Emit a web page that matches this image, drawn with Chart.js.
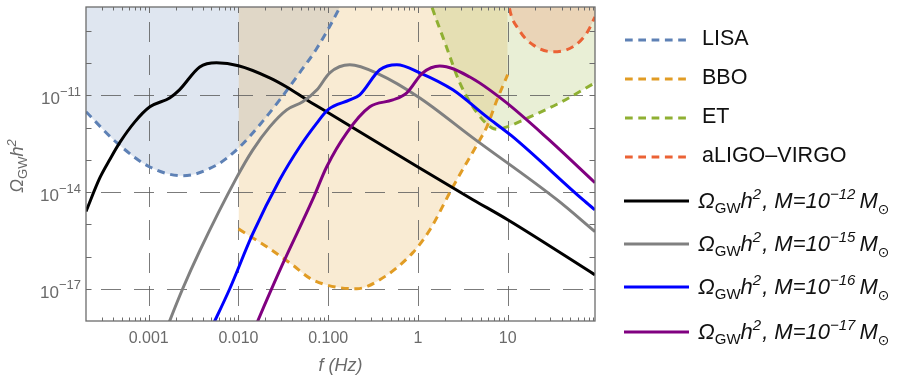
<!DOCTYPE html>
<html>
<head>
<meta charset="utf-8">
<script src="https://cdn.jsdelivr.net/npm/chart.js@4.4.1/dist/chart.umd.min.js"></script>
<style>
  html, body { margin: 0; padding: 0; background: #fff; }
  #wrap { width: 912px; height: 375px; }
</style>
</head>
<body>
<div id="wrap"><canvas id="chart" width="912" height="375"></canvas></div>
<script>
// axis ranges
const fMin = 2e-4, fMax = 94;
const omegaMin = 1e-18, omegaMax = 5.5e-9;

const xTickValues = [0.001, 0.01, 0.1, 1, 10];
const xTickLabels = ['0.001', '0.010', '0.100', '1', '10'];
const yTickExponents = [-11, -14, -17];

// detector sensitivity curves (f in Hz, Omega h^2)
const lisaF = [2.0e-4, 4.4e-4, 1.03e-3, 2.39e-3, 5.7e-3, 1.03e-2, 1.73e-2, 2.88e-2, 4.8e-2, 7.3e-2, 0.135, 0.155];
const lisaOmega = [3.1e-12, 3.4e-13, 6.0e-14, 3.2e-14, 6.9e-14, 2.5e-13, 1.23e-12, 7.2e-12, 5.0e-11, 2.6e-10, 5.5e-9, 1.3e-8];

const bboF = [0.01, 2.07e-2, 4.0e-2, 6.7e-2, 0.208, 0.376, 0.877, 1.36, 2.45, 4.9, 5.86, 7.6, 10];
const bboOmega = [7.2e-16, 2.0e-16, 5.5e-17, 1.9e-17, 1.0e-17, 1.9e-17, 1.32e-16, 6.8e-16, 1.45e-14, 4.2e-13, 1.05e-12, 7.2e-12, 4.4e-11];

const etF = [1.29, 1.43, 2.0, 2.93, 4.54, 6.67, 7.8, 9.8, 17.7, 38.2, 94];
const etOmega = [1.3e-8, 5.5e-9, 4.3e-10, 2.45e-11, 2.9e-12, 9.8e-13, 8.9e-13, 1.05e-12, 2.14e-12, 5.9e-12, 2.45e-11];

const ligoF = [10, 10.4, 13.4, 19.1, 31.9, 53.3, 76.4, 94];
const ligoOmega = [1.3e-8, 5.5e-9, 1.07e-9, 3.7e-10, 2.24e-10, 3.2e-10, 8.7e-10, 2.7e-9];

// GW spectra for the four masses
const m12F = [2.0e-4, 2.85e-4, 3.67e-4, 4.75e-4, 7.0e-4, 1.03e-3, 1.71e-3, 2.2e-3, 3.7e-3, 5.7e-3, 1.0e-2, 2.23e-2, 3.45e-2, 5.8e-2, 9.6e-2, 1, 4.1, 10, 94];
const m12Omega = [2.5e-15, 2.75e-14, 1.0e-13, 3.4e-13, 1.5e-12, 4.4e-12, 8.3e-12, 1.48e-11, 7.6e-11, 1.02e-10, 8.3e-11, 3.5e-11, 1.82e-11, 7.2e-12, 3.1e-12, 6.0e-14, 5.8e-15, 1.38e-15, 2.7e-17];

const m15F = [1.37e-3, 1.71e-3, 2.39e-3, 3.7e-3, 9.6e-3, 1.44e-2, 2.23e-2, 3.45e-2, 5.2e-2, 7.5e-2, 0.104, 0.174, 0.376, 1.05, 4.1, 35.4, 94];
const m15Omega = [2e-19, 1e-18, 1e-17, 1.5e-16, 2.9e-14, 2.0e-13, 1.05e-12, 3.55e-12, 6.3e-12, 1.48e-11, 5.0e-11, 8.9e-11, 4.4e-11, 8.3e-12, 4.8e-13, 5.8e-15, 5.9e-16];

const m16F = [4.3e-3, 5.44e-3, 8.0e-3, 1.44e-2, 2.88e-2, 4.8e-2, 7.5e-2, 9.9e-2, 0.174, 0.225, 0.376, 0.582, 1.05, 2.45, 5.86, 11.1, 68.9, 94];
const m16Omega = [2.6e-19, 1e-18, 1e-17, 5e-16, 2.4e-14, 2.5e-13, 1.4e-12, 3.55e-12, 7.2e-12, 1.04e-11, 6.2e-11, 8.9e-11, 5.0e-11, 1.48e-11, 2.14e-12, 5.5e-13, 5.8e-15, 2.8e-15];

const m17F = [1.3e-2, 1.64e-2, 3.12e-2, 6.7e-2, 9.6e-2, 0.161, 0.291, 0.525, 0.752, 1.13, 1.75, 3.79, 8.85, 27.4, 94];
const m17Omega = [2.1e-19, 1e-18, 6e-17, 5.8e-15, 6.0e-14, 6.9e-13, 4.4e-12, 7.2e-12, 1.2e-11, 5.0e-11, 8.2e-11, 3.7e-11, 7.2e-12, 4.8e-13, 1.95e-14];

const detectorNames = ['LISA', 'BBO', 'ET', 'aLIGO\u2013VIRGO'];
const detectorColors = ['#5e81b5', '#e19c24', '#8fb032', '#eb6235'];
const detectorFills = ['rgba(94,129,181,0.2)', 'rgba(225,156,36,0.2)', 'rgba(143,176,50,0.2)', 'rgba(235,98,53,0.2)'];
const massExponents = [-12, -15, -16, -17];
const massColors = ['#000000', '#808080', '#0000ff', '#800080'];

const dashPattern = [7.7, 5.6];
const frameColor = '#6c6c6c';
const labelColor = '#6a6a6a';
const fontFamily = '"Liberation Sans", Arial, sans-serif';

function pts(f, o) {
    return f.map((v, i) => ({x: v, y: o[i]}));
}

const detectorData = [[lisaF, lisaOmega], [bboF, bboOmega], [etF, etOmega], [ligoF, ligoOmega]];
const massData = [[m12F, m12Omega], [m15F, m15Omega], [m16F, m16Omega], [m17F, m17Omega]];

const datasets = [];
detectorData.forEach((d, i) => {
    datasets.push({
        label: detectorNames[i],
        data: pts(d[0], d[1]),
        borderColor: detectorColors[i],
        backgroundColor: detectorFills[i],
        borderWidth: 3,
        borderDash: dashPattern,
        fill: 'end',
        order: 7 - i
    });
});
massData.forEach((d, i) => {
    datasets.push({
        label: 'M=1e' + massExponents[i],
        data: pts(d[0], d[1]),
        borderColor: massColors[i],
        borderWidth: 3,
        fill: false,
        order: 3 - i
    });
});

function drawRuns(ctx, x, y, runs) {
    let cx = x;
    runs.forEach(r => {
        ctx.font = r.font;
        ctx.fillText(r.text, cx, y + (r.dy || 0));
        cx += ctx.measureText(r.text).width + (r.gap || 0);
    });
    return cx - x;
}

function runsWidth(ctx, runs) {
    let w = 0;
    runs.forEach(r => {
        ctx.font = r.font;
        w += ctx.measureText(r.text).width + (r.gap || 0);
    });
    return w;
}

const axesPlugin = {
    id: 'axesPlugin',
    beforeDatasetsDraw(chart) {
        const {ctx, chartArea: a, scales: {x, y}} = chart;
        ctx.save();
        ctx.strokeStyle = 'rgba(90,90,90,0.8)';
        ctx.lineWidth = 1;
        ctx.setLineDash([20, 13]);
        ctx.lineDashOffset = 18;
        xTickValues.forEach(v => {
            const px = Math.round(x.getPixelForValue(v)) + 0.5;
            ctx.beginPath();
            ctx.moveTo(px, a.top);
            ctx.lineTo(px, a.bottom);
            ctx.stroke();
        });
        yTickExponents.forEach(e => {
            const py = Math.round(y.getPixelForValue(Math.pow(10, e))) + 0.5;
            ctx.beginPath();
            ctx.moveTo(a.left, py);
            ctx.lineTo(a.right, py);
            ctx.stroke();
        });
        ctx.restore();
    },
    afterDatasetsDraw(chart) {
        const {ctx, chartArea: a, scales: {x, y}} = chart;
        ctx.save();
        // frame
        ctx.strokeStyle = frameColor;
        ctx.lineWidth = 1.3;
        ctx.strokeRect(a.left, a.top, a.right - a.left, a.bottom - a.top);

        // x ticks, bottom and top
        ctx.lineWidth = 1;
        for (let d = -4; d <= 2; d++) {
            for (let m = 1; m <= 9; m++) {
                const v = m * Math.pow(10, d);
                if (v <= fMin || v >= fMax) continue;
                const px = Math.round(x.getPixelForValue(v)) + 0.5;
                const len = m === 1 ? 6 : 3.5;
                ctx.beginPath();
                ctx.moveTo(px, a.bottom);
                ctx.lineTo(px, a.bottom - len);
                ctx.moveTo(px, a.top);
                ctx.lineTo(px, a.top + len);
                ctx.stroke();
            }
        }
        // y ticks, left and right
        for (let e = -18; e <= -8; e++) {
            const v = Math.pow(10, e);
            if (v <= omegaMin || v >= omegaMax) continue;
            const py = Math.round(y.getPixelForValue(v)) + 0.5;
            ctx.beginPath();
            ctx.moveTo(a.left, py);
            ctx.lineTo(a.left + 5.5, py);
            ctx.moveTo(a.right, py);
            ctx.lineTo(a.right - 5.5, py);
            ctx.stroke();
        }

        // tick labels
        ctx.fillStyle = labelColor;
        ctx.textBaseline = 'alphabetic';
        ctx.textAlign = 'center';
        ctx.font = '16px ' + fontFamily;
        xTickValues.forEach((v, i) => {
            ctx.fillText(xTickLabels[i], x.getPixelForValue(v), 343);
        });
        ctx.textAlign = 'left';
        yTickExponents.forEach(e => {
            const py = y.getPixelForValue(Math.pow(10, e));
            const runs = [
                {text: '10', font: '17px ' + fontFamily, dy: 9},
                {text: '\u2212' + Math.abs(e), font: '13px ' + fontFamily, dy: 0.5}
            ];
            const w = runsWidth(ctx, runs);
            drawRuns(ctx, 81 - w, py, runs);
        });

        // axis titles
        ctx.font = 'italic 18px ' + fontFamily;
        ctx.textAlign = 'center';
        ctx.fillText('f (Hz)', (a.left + a.right) / 2, 371);
        ctx.textAlign = 'left';
        const yTitle = [
            {text: '\u03A9', font: 'italic 18px ' + fontFamily, dy: 0},
            {text: 'GW', font: '13px ' + fontFamily, dy: 4},
            {text: 'h', font: 'italic 18px ' + fontFamily, dy: 0},
            {text: '2', font: 'italic 13px ' + fontFamily, dy: -7}
        ];
        const tw = runsWidth(ctx, yTitle);
        ctx.translate(23, (a.top + a.bottom) / 2 + 2);
        ctx.rotate(-Math.PI / 2);
        drawRuns(ctx, -tw / 2, 0, yTitle);
        ctx.restore();
    },
    afterDraw(chart) {
        const ctx = chart.ctx;
        ctx.save();
        ctx.textAlign = 'left';
        ctx.textBaseline = 'middle';
        const detY = [40, 79, 118, 157];
        ctx.lineWidth = 3;
        detectorNames.forEach((name, i) => {
            ctx.strokeStyle = detectorColors[i];
            ctx.setLineDash(dashPattern);
            ctx.beginPath();
            ctx.moveTo(625, detY[i]);
            ctx.lineTo(686, detY[i]);
            ctx.stroke();
            ctx.fillStyle = '#111';
            ctx.font = '21.5px ' + fontFamily;
            ctx.fillText(name, 702, detY[i] - 1);
        });
        ctx.setLineDash([]);
        const massY = [201, 244, 287, 332];
        const it = 'italic 22px ' + fontFamily;
        const small = 'italic 15px ' + fontFamily;
        massExponents.forEach((e, i) => {
            ctx.strokeStyle = massColors[i];
            ctx.beginPath();
            ctx.moveTo(624, massY[i]);
            ctx.lineTo(689, massY[i]);
            ctx.stroke();
            ctx.fillStyle = '#111';
            ctx.textBaseline = 'alphabetic';
            drawRuns(ctx, 698, massY[i] + 7, [
                {text: '\u03A9', font: it},
                {text: 'GW', font: '15px ' + fontFamily, dy: 5},
                {text: 'h', font: it},
                {text: '2', font: small, dy: -9, gap: 1},
                {text: ', M=10', font: it},
                {text: '\u2212' + Math.abs(e), font: small, dy: -9, gap: 4},
                {text: 'M', font: it},
                {text: '\u2299', font: '14px "DejaVu Sans", sans-serif', dy: 6}
            ]);
        });
        ctx.restore();
    }
};

new Chart(document.getElementById('chart').getContext('2d'), {
    type: 'line',
    data: {datasets},
    options: {
        responsive: false,
        animation: false,
        layout: {padding: {left: 86, top: 7, right: 317, bottom: 54}},
        elements: {
            point: {radius: 0},
            line: {cubicInterpolationMode: 'monotone', capBezierPoints: false, borderCapStyle: 'butt'}
        },
        datasets: {line: {clip: 0}},
        scales: {
            x: {type: 'logarithmic', min: fMin, max: fMax, display: false},
            y: {type: 'logarithmic', min: omegaMin, max: omegaMax, display: false}
        },
        plugins: {
            legend: {display: false},
            tooltip: {enabled: false},
            filler: {drawTime: 'beforeDatasetsDraw'}
        }
    },
    plugins: [axesPlugin]
});
</script>
</body>
</html>
